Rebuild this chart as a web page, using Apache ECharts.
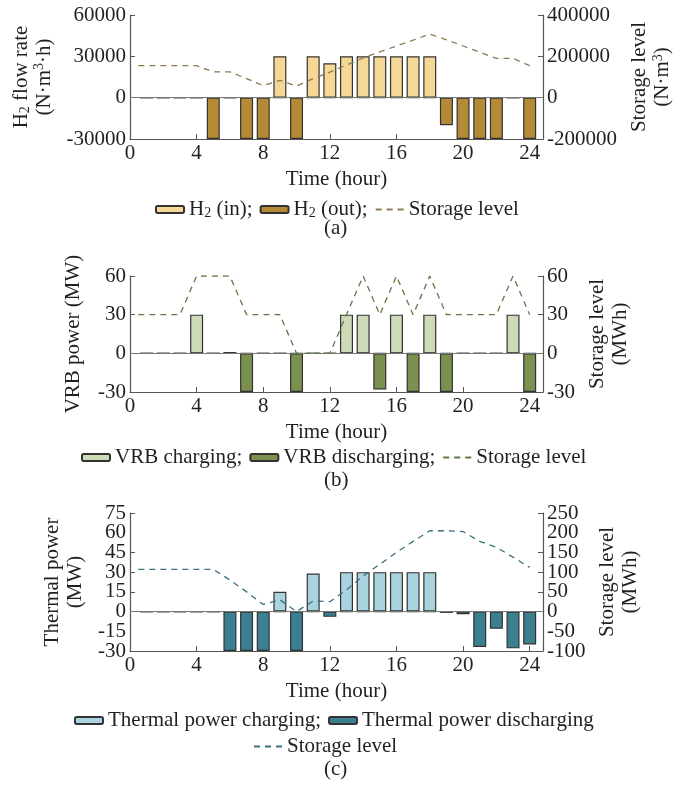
<!DOCTYPE html>
<html>
<head>
<meta charset="utf-8">
<script src="https://cdn.jsdelivr.net/npm/echarts@6/dist/echarts.min.js"></script>
<style>
  html, body { margin: 0; padding: 0; background: #fff; }
  #chart { width: 691px; height: 785px; }
</style>
</head>
<body>
<div id="chart"></div>
<script>
const hours = [1, 2, 3, 4, 5, 6, 7, 8, 9, 10, 11, 12, 13, 14, 15, 16, 17, 18, 19, 20, 21, 22, 23, 24];
const storageHours = [0.5, 1, 2, 3, 4, 5, 6, 7, 8, 9, 10, 11, 12, 13, 14, 15, 16, 17, 18, 19, 20, 21, 22, 23, 24];
const xTicks = [0, 4, 8, 12, 16, 20, 24];

// (a) H2
const h2In = [0, 0, 0, 0, 0, 0, 0, 0, 30000, 0, 30000, 25000, 30000, 30000, 30000, 30000, 30000, 30000, 0, 0, 0, 0, 0, 0];
const h2Out = [0, 0, 0, 0, -30000, 0, -30000, -30000, 0, -30000, 0, 0, 0, 0, 0, 0, 0, 0, -20000, -30000, -30000, -30000, 0, -30000];
const h2Storage = [155000, 155000, 155000, 155000, 155000, 125000, 125000, 92000, 58000, 84000, 56000, 92000, 124000, 158000, 192000, 222000, 250000, 278000, 308000, 280000, 250000, 220000, 190000, 190000, 155000];

// (b) VRB
const vrbCharge = [0, 0, 0, 30, 0, 1, 0, 0, 0, 0, 0, 0, 30, 30, 0, 30, 0, 30, 0, 0, 0, 0, 30, 0];
const vrbDischarge = [0, 0, 0, 0, 0, 0, -30, 0, 0, -30, 0, 0, 0, 0, -28, 0, -30, 0, -30, 0, 0, 0, 0, -30];
const vrbStorage = [30, 30, 30, 30, 60, 60, 60, 30, 30, 30, 0, 0, 0, 30, 60, 30, 60, 30, 60, 30, 30, 30, 30, 60, 30];

// (c) thermal
const thCharge = [0, 0, 0, 0, 0, 0, 0, 0, 15, 0, 29, 0, 30, 30, 30, 30, 30, 30, 0, 0, 0, 0, 0, 0];
const thDischarge = [0, 0, 0, 0, 0, -30, -30, -30, 0, -30, 0, -4, 0, 0, 0, 0, 0, 0, -1, -2, -27, -13, -28, -25];
const thStorage = [107, 107, 107, 107, 107, 107, 80, 50, 18, 30, 0, 27, 25, 55, 90, 120, 150, 178, 205, 205, 203, 178, 163, 138, 112];

const FONT = "'Liberation Serif', 'Times New Roman', serif";
const FS = 21;
const TXT = '#231f20';
const AX = '#555';
const rich = {
  n: { fontFamily: FONT, fontSize: FS, color: TXT },
  sub: { fontFamily: FONT, fontSize: 14, color: TXT, verticalAlign: 'bottom' },
  sup: { fontFamily: FONT, fontSize: 14, color: TXT, verticalAlign: 'top' }
};

const chart = echarts.init(document.getElementById('chart'));

const grids = [
  { left: 130, right: 148, top: 15, height: 124 },
  { left: 130, right: 148, top: 276, height: 116 },
  { left: 130, right: 148, top: 513, height: 138 }
];

function xAxisFor(i) {
  return {
    type: 'value', gridIndex: i, min: 0, max: 24.8, interval: 4,
    name: 'Time (hour)', nameLocation: 'middle', nameGap: 30,
    nameTextStyle: { fontFamily: FONT, fontSize: FS, color: TXT },
    axisLine: { onZero: false, lineStyle: { color: AX, width: 1.2 } },
    axisTick: { inside: true, length: 5, lineStyle: { color: AX } },
    axisLabel: {
      fontFamily: FONT, fontSize: FS, color: TXT, margin: 4,
      showMinLabel: true, showMaxLabel: true, hideOverlap: false,
      formatter: v => (xTicks.indexOf(v) >= 0 ? String(v) : '')
    },
    splitLine: { show: false }
  };
}

function yAxisFor(i, min, max, interval, name, gap, right) {
  return {
    type: 'value', gridIndex: i, min: min, max: max, interval: interval,
    position: right ? 'right' : 'left',
    name: name, nameLocation: 'middle', nameRotate: 90, nameGap: gap,
    nameTextStyle: { fontFamily: FONT, fontSize: FS, color: TXT, lineHeight: 23, rich: rich },
    axisLine: { show: true, lineStyle: { color: AX, width: 1.2 } },
    axisTick: { show: true, inside: true, length: 5, lineStyle: { color: AX } },
    axisLabel: {
      fontFamily: FONT, fontSize: FS, color: TXT, margin: 4,
      showMinLabel: true, showMaxLabel: true, hideOverlap: false,
      formatter: v => String(v)
    },
    splitLine: { show: false }
  };
}

// labels next to min/max that ECharts drops when the ticks are tight
function extraLabelAxis(i, min, max, interval, right) {
  return {
    type: 'value', gridIndex: i, min: min, max: max, interval: interval,
    position: right ? 'right' : 'left',
    axisLine: { show: false }, axisTick: { show: false }, splitLine: { show: false },
    axisLabel: {
      fontFamily: FONT, fontSize: FS, color: TXT, margin: 4,
      showMinLabel: false, showMaxLabel: false, hideOverlap: false,
      formatter: v => (v === min + interval || v === max - interval ? String(v) : '')
    }
  };
}

function barSeries(name, xi, yi, values, color, zeroLine) {
  const s = {
    name: name, type: 'bar', xAxisIndex: xi, yAxisIndex: yi,
    barWidth: 13, barGap: '-100%',
    data: hours.map((h, k) => [h, values[k]]),
    itemStyle: { color: color, borderColor: '#333', borderWidth: 1.2 }
  };
  if (zeroLine) {
    s.markLine = {
      silent: true, symbol: 'none', label: { show: false },
      lineStyle: { color: '#777', type: 'solid', width: 1 },
      data: [{ yAxis: 0 }]
    };
  }
  return s;
}

function lineSeries(name, xi, yi, values, color) {
  return {
    name: name, type: 'line', xAxisIndex: xi, yAxisIndex: yi,
    symbol: 'none', showSymbol: false, z: 5,
    data: storageHours.map((h, k) => [h, values[k]]),
    itemStyle: { color: color },
    lineStyle: { color: color, width: 1.3, type: [6, 5] }
  };
}

function legendFor(top, left, names) {
  return {
    top: top, left: left, itemWidth: 28, itemHeight: 7, itemGap: 7,
    data: names.map(n => (n.indexOf('Storage') === 0 ? { name: n, itemStyle: { opacity: 0 } } : n)),
    textStyle: { fontFamily: FONT, fontSize: FS, color: TXT, rich: rich },
    formatter: function (n) {
      if (n === 'H2 (in);') return '{n|H}{sub|2}{n| (in);}';
      if (n === 'H2 (out);') return '{n|H}{sub|2}{n| (out);}';
      return '{n|' + n.trim() + '}';
    }
  };
}

function caption(text, y) {
  return {
    type: 'text', left: 336 - 12, top: y - 11,
    style: { text: text, font: FS + 'px ' + FONT, fill: TXT }
  };
}

chart.setOption({
  animation: false,
  grid: grids,
  xAxis: [xAxisFor(0), xAxisFor(1), xAxisFor(2)],
  yAxis: [
    yAxisFor(0, -30000, 60000, 30000, '{n|H}{sub|2}{n| flow rate}\n{n|(N·m}{sup|3}{n|·h)}', 62, false),
    yAxisFor(0, -200000, 400000, 200000, '{n|Storage level}\n{n|(N·m}{sup|3}{n|)}', 82, true),
    yAxisFor(1, -30, 60, 30, '{n|VRB power (MW)}', 45, false),
    yAxisFor(1, -30, 60, 30, '{n|Storage level}\n{n|(MWh)}', 38, true),
    yAxisFor(2, -30, 75, 15, '{n|Thermal power}\n{n|(MW)}', 42, false),
    yAxisFor(2, -100, 250, 50, '{n|Storage level}\n{n|(MWh)}', 51, true),
    extraLabelAxis(2, -30, 75, 15, false),
    extraLabelAxis(2, -100, 250, 50, true)
  ],
  legend: [
    legendFor(194, 150, ['H2 (in);', 'H2 (out);', 'Storage level']),
    legendFor(442, 76, ['VRB charging;', 'VRB discharging;', 'Storage level ']),
    legendFor(705, 69, ['Thermal power charging;', 'Thermal power discharging']),
    legendFor(731, 248, ['Storage level  '])
  ],
  series: [
    barSeries('H2 (in);', 0, 0, h2In, '#f6d896', true),
    barSeries('H2 (out);', 0, 0, h2Out, '#b58a36', false),
    lineSeries('Storage level', 0, 1, h2Storage, '#8c7a55'),
    barSeries('VRB charging;', 1, 2, vrbCharge, '#cddbb9', true),
    barSeries('VRB discharging;', 1, 2, vrbDischarge, '#7a914f', false),
    lineSeries('Storage level ', 1, 3, vrbStorage, '#5d7a45'),
    barSeries('Thermal power charging;', 2, 4, thCharge, '#a9d3df', true),
    barSeries('Thermal power discharging', 2, 4, thDischarge, '#3b7f91', false),
    lineSeries('Storage level  ', 2, 5, thStorage, '#3c6f80')
  ],
  graphic: [caption('(a)', 229), caption('(b)', 481), caption('(c)', 770)]
});
</script>
</body>
</html>
